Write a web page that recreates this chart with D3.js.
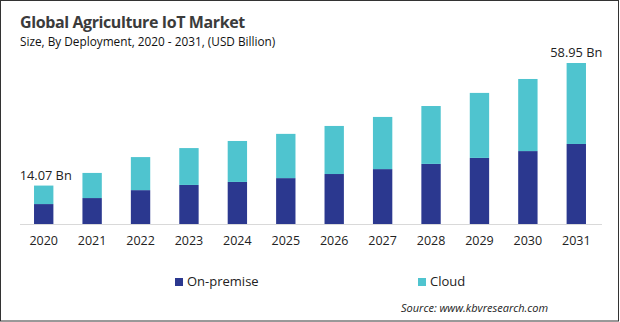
<!DOCTYPE html>
<html>
<head>
<meta charset="utf-8">
<script src="https://cdn.jsdelivr.net/npm/d3@7"></script>
<style>
  body { margin: 0; background: #fff; }
  text { font-family: "Open Sans", sans-serif; }
</style>
</head>
<body>
<div id="chart"></div>
<script>
// chart size
const width = 620;
const height = 322;
const margin = {left: 20, right: 20, top: 50, bottom: 98};

// data (USD Billion)
const years = ["2020","2021","2022","2023","2024","2025","2026","2027","2028","2029","2030","2031"];
const onPremise = [7.3, 9.5, 12.4, 14.3, 15.4, 16.8, 18.3, 20.1, 22.0, 24.2, 26.7, 29.3];
const cloud = [6.77, 9.2, 12.1, 13.5, 15.0, 16.2, 17.6, 19.1, 21.2, 23.8, 26.4, 29.65];
const seriesNames = ["On-premise", "Cloud"];
const colors = ["#2b388f", "#4fc4cf"];
const endLabels = {"2020": "14.07 Bn", "2031": "58.95 Bn"};

const svg = d3.select("#chart")
  .append("svg")
  .attr("width", width)
  .attr("height", height);

// outer frame
svg.append("rect")
  .attr("x", 0.5).attr("y", 0.5)
  .attr("width", 618).attr("height", 320.5)
  .attr("fill", "none")
  .attr("stroke", "#333");

// title + subtitle
svg.append("text")
  .attr("x", 20).attr("y", 28)
  .attr("font-size", "16px")
  .attr("font-weight", "bold")
  .attr("letter-spacing", "-0.4px")
  .attr("fill", "#3b3b3b")
  .text("Global Agriculture IoT Market");

svg.append("text")
  .attr("x", 20).attr("y", 46)
  .attr("font-size", "11.8px")
  .attr("fill", "#111")
  .text("Size, By Deployment,  2020 - 2031, (USD Billion)");

// stacked layout
const table = years.map((y, i) => ({year: y, "On-premise": onPremise[i], "Cloud": cloud[i]}));
const stacked = d3.stack().keys(seriesNames)(table);

const baseY = 224;
const yScale = d3.scaleLinear()
  .domain([0, 58.95])
  .range([baseY, 63]);

const xScale = d3.scaleBand()
  .domain(years)
  .range([19.5, 600.5])
  .paddingInner(0.6)
  .paddingOuter(0.3);

svg.selectAll(".series")
  .data(stacked)
  .enter()
  .append("g")
    .attr("class", "series")
    .attr("fill", (d, i) => colors[i])
  .selectAll("rect")
  .data(d => d)
  .enter()
  .append("rect")
    .attr("x", d => xScale(d.data.year))
    .attr("y", d => yScale(d[1]))
    .attr("width", xScale.bandwidth())
    .attr("height", d => yScale(d[0]) - yScale(d[1]));

// x axis
const xAxis = svg.append("g")
  .attr("transform", `translate(0,${baseY})`)
  .call(d3.axisBottom(xScale).tickSize(0).tickPadding(12));
xAxis.select(".domain").attr("stroke", "#d9d9d9").attr("d", "M20,0.5H602");
xAxis.selectAll("text")
  .attr("font-family", "Open Sans, sans-serif")
  .attr("font-size", "12.5px")
  .attr("fill", "#222");

// total labels on first and last bar
const last = stacked[stacked.length - 1];
svg.selectAll(".total")
  .data(last.filter(d => endLabels[d.data.year]))
  .enter()
  .append("text")
    .attr("class", "total")
    .attr("x", d => xScale(d.data.year) + xScale.bandwidth() / 2 + (d.data.year === "2020" ? 2 : 0))
    .attr("y", d => yScale(d[1]) - 6)
    .attr("text-anchor", "middle")
    .attr("font-size", "12.8px")
    .attr("fill", "#222")
    .text(d => endLabels[d.data.year]);

// legend
const legendX = [175, 418];
const legend = svg.selectAll(".legend")
  .data(seriesNames)
  .enter()
  .append("g")
    .attr("class", "legend")
    .attr("transform", (d, i) => `translate(${legendX[i]},278)`);
legend.append("rect")
  .attr("width", 8).attr("height", 8)
  .attr("fill", (d, i) => colors[i]);
legend.append("text")
  .attr("x", 12).attr("y", 8)
  .attr("font-size", "13px")
  .attr("fill", "#222")
  .text(d => d);

// source
svg.append("text")
  .attr("x", 401).attr("y", 312)
  .attr("font-size", "11px")
  .attr("font-style", "italic")
  .attr("fill", "#222")
  .text("Source: www.kbvresearch.com");
</script>
</body>
</html>
